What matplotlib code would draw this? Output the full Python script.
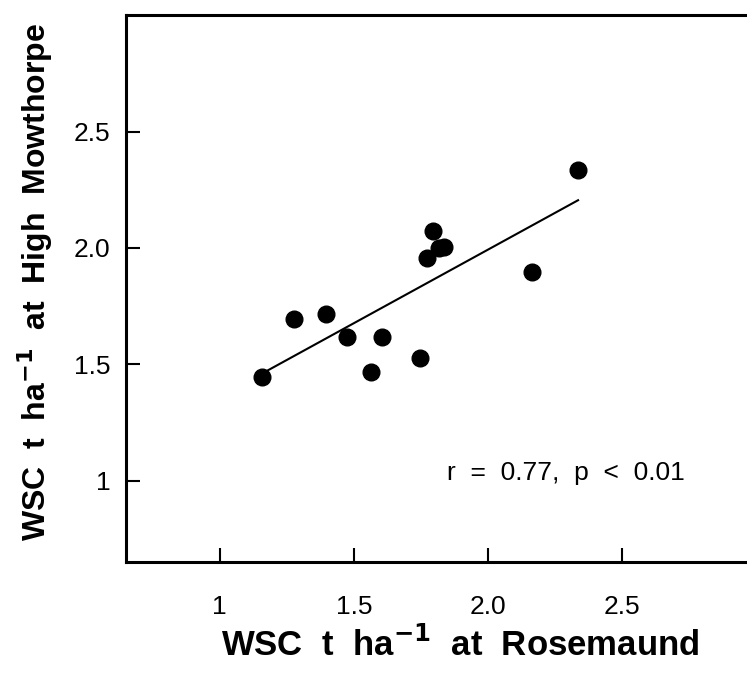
import numpy as np
import matplotlib
matplotlib.use("Agg")
import matplotlib.pyplot as plt

plt.rcParams['font.family'] = ['Liberation Sans', 'DejaVu Sans']

# WSC yields (t/ha) at the two sites
rosemaund = [1.158, 1.277, 1.397, 1.476, 1.607, 1.565, 1.748,
             1.797, 1.774, 1.819, 1.838, 2.166, 2.337]
high_mowthorpe = [1.444, 1.694, 1.716, 1.616, 1.616, 1.466, 1.526,
                  2.073, 1.957, 2.000, 2.004, 1.897, 2.336]

ticks = [1, 1.5, 2.0, 2.5]
tick_labels = ["1", "1.5", "2.0", "2.5"]

x = np.array(rosemaund)
y = np.array(high_mowthorpe)
slope, intercept = np.polyfit(x, y, 1)
xfit = np.array([x.min(), x.max()])

fig = plt.figure(figsize=(7.47, 6.75), dpi=100)
ax = fig.add_axes([0.1687, 0.1674, 0.843, 0.810])

ax.plot(x, y, 'o', color='black', markersize=12)
ax.plot(xfit, slope * xfit + intercept, color='black', linewidth=1.5)

ax.set_xlim(0.65, 3.0)
ax.set_ylim(0.65, 3.0)
ax.set_xticks(ticks)
ax.set_xticklabels(tick_labels)
ax.set_yticks(ticks)
ax.set_yticklabels(tick_labels)

for s in ['left', 'bottom', 'top']:
    ax.spines[s].set_linewidth(2.2)
ax.spines['right'].set_visible(False)

ax.tick_params(axis='x', direction='in', length=10, width=1.5, pad=24, labelsize=19)
ax.tick_params(axis='y', direction='in', length=10, width=1.5, pad=11, labelsize=19)

ax.set_xlabel(r"WSC  t  ha$^{\mathbf{-1}}$  at  Rosemaund", fontsize=25,
              fontweight='bold', va='center', ha='center')
ax.xaxis.set_label_coords(0.53, -0.152)
ax.set_ylabel(r"WSC  t  ha$^{\mathbf{-1}}$  at  High  Mowthorpe", fontsize=23,
              fontweight='bold', va='center', ha='center')
ax.yaxis.set_label_coords(-0.144, 0.512)

ax.text(2.293, 1.034, "r  =  0.77,  p  <  0.01", fontsize=19,
        ha='center', va='center')

fig.savefig("out.png", dpi=100)
